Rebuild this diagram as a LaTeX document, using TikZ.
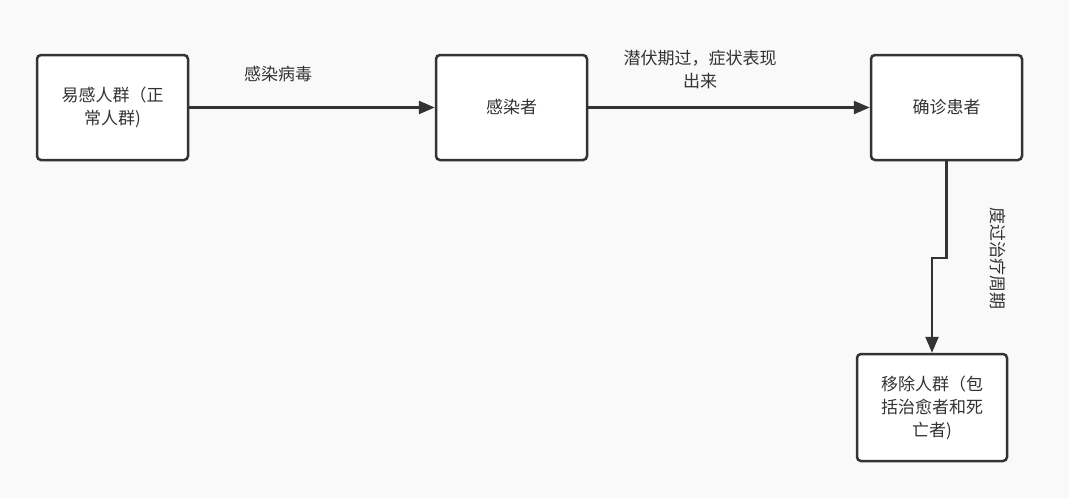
\documentclass[tikz,border=0pt]{standalone}
\usepackage{fontspec}
\setmainfont{Noto Sans CJK SC}
\usetikzlibrary{arrows.meta}
\definecolor{bg}{HTML}{F9F9F9}
\definecolor{ln}{HTML}{333333}
\begin{document}
\begin{tikzpicture}[x=1pt,y=-1pt,
  box/.style={draw=ln,line width=2.5pt,rounded corners=4pt,fill=white,minimum width=151pt,minimum height=105pt,align=center,font=\fontsize{17}{23}\selectfont,text=ln},
  conn/.style={draw=ln,line width=2.5pt,-{Triangle[length=16pt,width=13pt]}},
  lbl/.style={font=\fontsize{17}{23}\selectfont,text=ln,align=center}]
\fill[bg] (0,0) rectangle (1069,498);
\useasboundingbox (0,0) rectangle (1069,498);
\node[box] (a) at (112.5,107.5) {易感人群（正\\常人群)};
\node[box] (b) at (511.5,107.5) {感染者};
\node[box] (c) at (946.5,107.5) {确诊患者};
\node[box,minimum width=150pt,minimum height=107pt] (d) at (932,407.5) {移除人群（包\\括治愈者和死\\亡者)};
\draw[conn] (a.east) -- (b.west);
\draw[conn] (b.east) -- (c.west);
\coordinate (k1) at (946.5,258);
\coordinate (k2) at (932,258);
\draw[conn,line join=miter] (c.south) -- (k1) -- (k2) -- (d.north);
\node[lbl] (l1) at (278,74) {感染病毒};
\node[lbl] (l2) at (700,70) {潜伏期过，症状表现\\出来};
\node[lbl,rotate=-90] (l3) at (998,258) {度过治疗周期};
\end{tikzpicture}
\end{document}
